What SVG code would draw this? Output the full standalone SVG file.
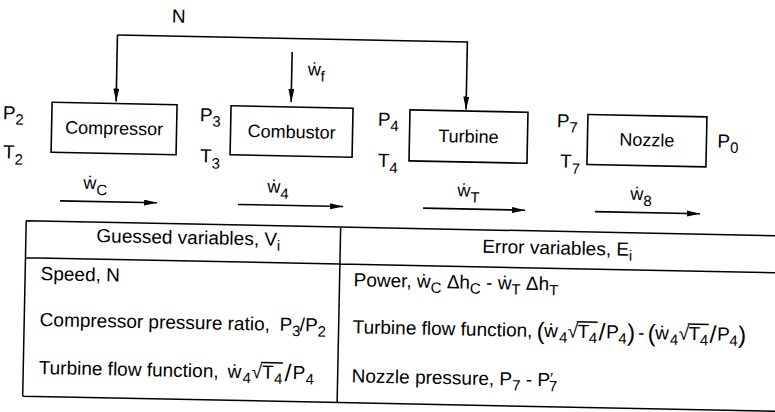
<svg xmlns="http://www.w3.org/2000/svg" width="775" height="412" viewBox="0 0 775 412">
<defs>
<style>
.t{font-family:"Liberation Sans",Arial,"DejaVu Sans",sans-serif;font-size:19px;fill:#000}
.lb{font-size:18px}
.s{font-size:15px}
.b{font-size:24px}
.bx{fill:none;stroke:#000;stroke-width:1.6}
.ln{fill:none;stroke:#000;stroke-width:1.6}
.tl{fill:none;stroke:#000;stroke-width:1.5}
</style>
<marker id="ah" markerUnits="userSpaceOnUse" markerWidth="14" markerHeight="8" refX="13" refY="3" orient="auto"><path d="M0,0 L13,3 L0,6 Z" fill="#000"/></marker>
</defs>
<rect width="775" height="412" fill="#fff"/>
<g transform="rotate(1.15 390 210)">
 <g id="connectors">
  <path class="ln" d="M114,40.5 H464 V108" marker-end="url(#ah)"/>
  <path class="ln" d="M114,40.5 V107" marker-end="url(#ah)"/>
  <text class="t" x="168" y="27">N</text>
  <path class="ln" d="M289,54 V104" marker-end="url(#ah)"/>
  <text class="t lb" x="305" y="77">ẇ<tspan class="s" dy="6">f</tspan></text>
  <path class="ln" d="M60,207.5 H157" marker-end="url(#ah)"/>
  <path class="ln" d="M238,207.5 H343" marker-end="url(#ah)"/>
  <path class="ln" d="M423,207.5 H525" marker-end="url(#ah)"/>
  <path class="ln" d="M595,207.5 H700" marker-end="url(#ah)"/>
  <text class="t lb" x="83" y="195">ẇ<tspan class="s" dy="6">C</tspan></text>
  <text class="t lb" x="267" y="195">ẇ<tspan class="s" dy="6">4</tspan></text>
  <text class="t lb" x="457" y="195">ẇ<tspan class="s" dy="6">T</tspan></text>
  <text class="t lb" x="630" y="195">ẇ<tspan class="s" dy="6">8</tspan></text>
 </g>
 <g id="station2">
  <text class="t" x="1" y="127">P<tspan class="s" dy="5">2</tspan></text>
  <text class="t" x="2" y="166">T<tspan class="s" dy="6">2</tspan></text>
 </g>
 <g id="compressor">
  <rect class="bx" x="50" y="109" width="125" height="50"/>
  <text class="t lb" x="112.5" y="140" text-anchor="middle">Compressor</text>
 </g>
 <g id="station3">
  <text class="t" x="198" y="125">P<tspan class="s" dy="5">3</tspan></text>
  <text class="t" x="199" y="166">T<tspan class="s" dy="6">3</tspan></text>
 </g>
 <g id="combustor">
  <rect class="bx" x="229" y="109" width="122" height="49"/>
  <text class="t lb" x="290" y="140" text-anchor="middle">Combustor</text>
 </g>
 <g id="station4">
  <text class="t" x="376" y="126">P<tspan class="s" dy="5">4</tspan></text>
  <text class="t" x="377" y="167">T<tspan class="s" dy="6">4</tspan></text>
 </g>
 <g id="turbine">
  <rect class="bx" x="408" y="109.5" width="118" height="51"/>
  <text class="t lb" x="467" y="141" text-anchor="middle">Turbine</text>
 </g>
 <g id="station7">
  <text class="t" x="555" y="124">P<tspan class="s" dy="5">7</tspan></text>
  <text class="t" x="559" y="164">T<tspan class="s" dy="6">7</tspan></text>
 </g>
 <g id="nozzle">
  <rect class="bx" x="586" y="110.5" width="119" height="50"/>
  <text class="t lb" x="645.5" y="141" text-anchor="middle">Nozzle</text>
 </g>
 <g id="station0">
  <text class="t" x="716" y="141">P<tspan class="s" dy="5">0</tspan></text>
 </g>
 <g id="table">
  <path class="tl" d="M26.5,228 H780 M26.5,265 H780 M26.5,403.5 H780 M26.5,228 V403.5 M341,228 V403.5"/>
  <text class="t" x="97" y="248">Guessed variables, V<tspan class="s" dy="5">i</tspan></text>
  <text class="t" x="483" y="251">Error variables, E<tspan class="s" dy="5">i</tspan></text>
  <text class="t" x="42" y="287">Speed, N</text>
  <text class="t" x="42" y="333">Compressor pressure ratio, <tspan x="282">P</tspan><tspan class="s" x="294.5" y="338">3</tspan><tspan x="302" y="333">/</tspan><tspan x="307.5">P</tspan><tspan class="s" x="320" y="338">2</tspan></text>
  <text class="t" x="42" y="381">Turbine flow function, <tspan x="231">ẇ</tspan><tspan class="s" x="246" y="386">4</tspan><tspan x="255" y="381">√</tspan><tspan x="265.5">T</tspan><tspan class="s" x="277.5" y="386">4</tspan><tspan class="b" x="288" y="383">/</tspan><tspan x="296" y="381">P</tspan><tspan class="s" x="309" y="386">4</tspan></text>
  <line class="tl" x1="264" y1="365" x2="286" y2="365"/>
  <text class="t" x="355" y="287">Power, ẇ<tspan class="s" dy="5">C</tspan><tspan dy="-5"> Δh</tspan><tspan class="s" dy="5">C</tspan><tspan dy="-5"> - ẇ</tspan><tspan class="s" dy="5">T</tspan><tspan dy="-5"> Δh</tspan><tspan class="s" dy="5">T</tspan></text>
  <text class="t" x="355" y="334">Turbine flow function, <tspan class="b" x="539" y="336">(</tspan><tspan x="546.5" y="334">ẇ</tspan><tspan class="s" x="561.5" y="339">4</tspan><tspan x="570" y="334">√</tspan><tspan x="580">T</tspan><tspan class="s" x="591.5" y="339">4</tspan><tspan class="b" x="601" y="336">/</tspan><tspan x="608.5" y="334">P</tspan><tspan class="s" x="621" y="339">4</tspan><tspan class="b" x="629.5" y="336">)</tspan><tspan x="640.5" y="334">-</tspan><tspan class="b" x="650" y="336">(</tspan><tspan x="657.5" y="334">ẇ</tspan><tspan class="s" x="672.5" y="339">4</tspan><tspan x="681" y="334">√</tspan><tspan x="691">T</tspan><tspan class="s" x="702.5" y="339">4</tspan><tspan class="b" x="712" y="336">/</tspan><tspan x="719.5" y="334">P</tspan><tspan class="s" x="732" y="339">4</tspan><tspan class="b" x="740.5" y="336">)</tspan></text>
  <line class="tl" x1="579" y1="318" x2="600" y2="318"/>
  <line class="tl" x1="690" y1="318" x2="711" y2="318"/>
  <text class="t" x="355" y="383">Nozzle pressure, P<tspan class="s" dy="5">7</tspan><tspan dy="-5"> - P</tspan><tspan class="s" dy="-3">′</tspan><tspan class="s" dx="-4" dy="8">7</tspan></text>
 </g>
</g>
</svg>
